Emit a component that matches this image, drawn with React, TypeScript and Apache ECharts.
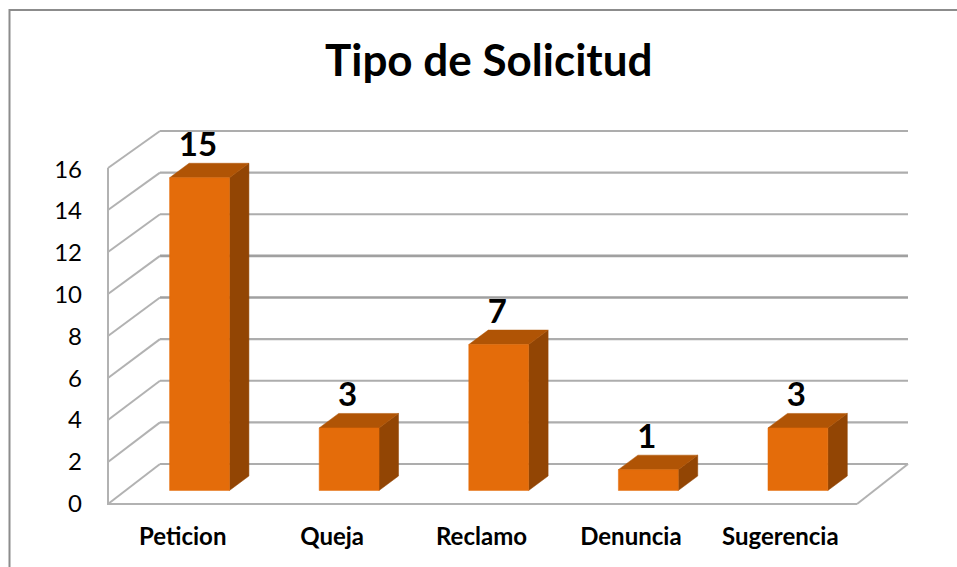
import React, { useEffect, useRef } from "react";
import * as echarts from "echarts";

const categories = ["Peticion", "Queja", "Reclamo", "Denuncia", "Sugerencia"];
const values = [15, 3, 7, 1, 3];
const gridTicks = [0, 2, 4, 6, 8, 10, 12, 14, 16];
const titleText = "Tipo de Solicitud";
const FONT = "Lato, Carlito, sans-serif";

const renderWall = (_p: any, api: any) => {
  const v = api.value(1);
  const a = api.coord([0, v]);
  const b = api.coord([1, v]);
  const dy = 40 - (v * 3) / 16;
  const strong = v === 8 || v === 10;
  const weak = { stroke: "#b2b2b2", lineWidth: 2, fill: "none" };
  const main = { stroke: strong ? "#a0a0a0" : "#adadad", lineWidth: strong ? 2.6 : 2.2, fill: "none" };
  const line = (x1: number, y1: number, x2: number, y2: number, style: any = weak) => ({
    type: "line",
    shape: { x1, y1, x2, y2 },
    style,
  });
  const children: any[] = [
    line(a[0], a[1], b[0], b[1], main),
    line(a[0], a[1], a[0] - 52, a[1] + dy),
  ];
  if (v === 0) {
    const fy = a[1] + dy;
    children.push(line(b[0], b[1], b[0] - 51, fy));
    children.push(line(a[0] - 52, fy, b[0] - 51, fy));
    children.push(line(a[0] - 52, fy + 1, a[0] - 52, fy - 336));
  }
  return { type: "group", children };
};

const renderBar = (_p: any, api: any) => {
  const idx = api.value(0);
  const val = api.value(1);
  const base = api.coord([idx, 0]);
  const top = api.coord([idx, val]);
  const w = api.size([1, 0])[0] * 0.4;
  const l = base[0] - w / 2;
  const r = base[0] + w / 2;
  const dx = 19.5;
  const dz = 14.5;
  const face = (points: number[][], fill: string) => ({
    type: "polygon",
    shape: { points },
    style: { fill, stroke: fill, lineWidth: 0.5 },
  });
  return {
    type: "group",
    children: [
      face([[r, top[1]], [r + dx, top[1] - dz], [r + dx, base[1] - dz], [r, base[1]]], "#924504"),
      face([[l, top[1]], [l + dx, top[1] - dz], [r + dx, top[1] - dz], [r, top[1]]], "#B05405"),
      face([[l, top[1]], [r, top[1]], [r, base[1]], [l, base[1]]], "#E46C0A"),
      {
        type: "text",
        x: base[0] - 1.5,
        y: top[1] - dz - 20,
        style: {
          text: String(val),
          font: `bold 33px ${FONT}`,
          fill: "#000",
          align: "center",
          verticalAlign: "middle",
        },
      },
    ],
  };
};

export default function App() {
  const ref = useRef<HTMLDivElement>(null);
  useEffect(() => {
    const chart = echarts.init(ref.current!, undefined, { renderer: "svg" });
    chart.setOption({
      animation: false,
      backgroundColor: "#fff",
      title: {
        text: titleText,
        left: 325,
        top: 37,
        padding: 0,
        textStyle: { fontFamily: FONT, fontWeight: "bold", fontSize: 44, color: "#000" },
      },
      graphic: [
        {
          type: "polyline",
          shape: { points: [[9.5, 567], [9.5, 10], [957, 10]] },
          style: { stroke: "#8c8c8c", lineWidth: 2, fill: "none" },
        },
      ],
      grid: [
        { left: 108, width: 747, top: 168, height: 334.5 },
        { left: 160, width: 748, top: 131, height: 333 },
        { left: 124.7, width: 748, top: 156.9, height: 333.6 },
      ],
      xAxis: [
        {
          gridIndex: 0,
          type: "category",
          data: categories,
          axisLine: { show: false },
          axisTick: { show: false },
          axisLabel: { fontFamily: FONT, fontWeight: "bold", fontSize: 24, color: "#000", margin: 21, interval: 0 },
        },
        { gridIndex: 1, type: "value", min: 0, max: 1, show: false },
        { gridIndex: 2, type: "category", data: categories, show: false },
      ],
      yAxis: [
        {
          gridIndex: 0,
          type: "value",
          min: 0,
          max: 16,
          interval: 2,
          axisLine: { show: false },
          axisTick: { show: false },
          splitLine: { show: false },
          axisLabel: { fontFamily: FONT, fontSize: 24, color: "#000", margin: 26 },
        },
        { gridIndex: 1, type: "value", min: 0, max: 16, interval: 2, show: false, splitLine: { show: false } },
        { gridIndex: 2, type: "value", min: 0, max: 16, interval: 2, show: false, splitLine: { show: false } },
      ],
      series: [
        {
          type: "custom",
          xAxisIndex: 1,
          yAxisIndex: 1,
          silent: true,
          renderItem: renderWall,
          data: gridTicks.map((v) => [0, v]),
          z: 1,
        },
        {
          type: "custom",
          xAxisIndex: 2,
          yAxisIndex: 2,
          silent: true,
          renderItem: renderBar,
          data: values.map((v, i) => [i, v]),
          z: 3,
        },
      ],
    });
    return () => chart.dispose();
  }, []);
  return <div ref={ref} style={{ position: "absolute", left: 0, top: 0, width: 957, height: 567 }} />;
}
